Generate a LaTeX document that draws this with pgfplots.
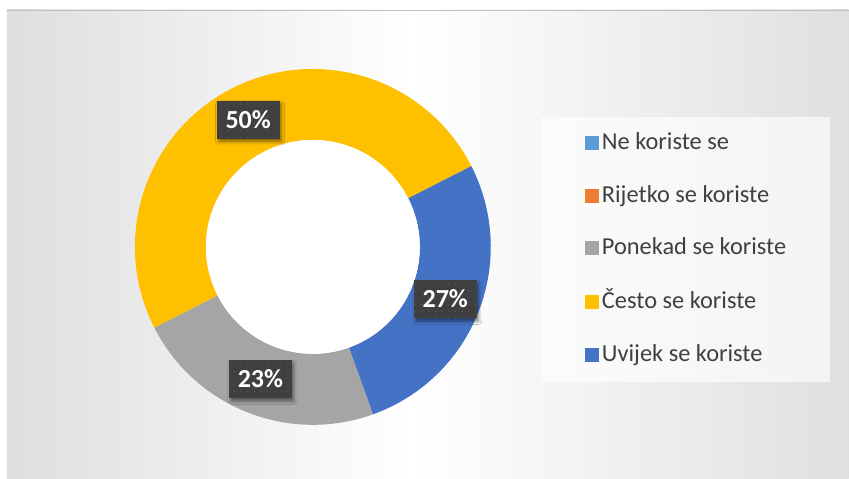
\documentclass[border=0pt]{standalone}
\usepackage{pgfplots}
\pgfplotsset{compat=1.18}
\usepackage{pgfplotstable}
\usepackage{fontspec}
\setmainfont{Carlito}
\usetikzlibrary{patterns.meta,shadows.blur}

\definecolor{cNe}{HTML}{5B9BD5}
\definecolor{cRij}{HTML}{ED7D31}
\definecolor{cPon}{HTML}{A5A5A5}
\definecolor{cCes}{HTML}{FFC000}
\definecolor{cUvi}{HTML}{4472C4}
\definecolor{txt}{HTML}{404040}
\definecolor{lbl}{HTML}{3F3F3F}
\definecolor{lbldot}{HTML}{585858}
\definecolor{bgedge}{HTML}{C4C4C4}
\definecolor{bgmid}{HTML}{DDDDDD}
\definecolor{holeedge}{HTML}{D2D2D2}

\pgfdeclarehorizontalshading{bgshade}{100bp}{color(0bp)=(bgedge); color(24bp)=(bgmid); color(49bp)=(white); color(77bp)=(bgmid); color(100bp)=(bgedge)}
\pgfdeclareradialshading{holeshade}{\pgfpoint{0bp}{0bp}}{color(0bp)=(white); color(27bp)=(white); color(50bp)=(holeedge)}

% data (in clockwise order, starting at the first slice angle)
\pgfplotstableread{
name value
Ponekad 23
Cesto 50
Uvijek 27
}\donutdata
\pgfplotstablegetelem{0}{value}\of\donutdata \edef\vPon{\pgfplotsretval}
\pgfplotstablegetelem{1}{value}\of\donutdata \edef\vCes{\pgfplotsretval}
\pgfplotstablegetelem{2}{value}\of\donutdata \edef\vUvi{\pgfplotsretval}

\pgfmathsetmacro\aStart{-70.2}
\pgfmathsetmacro\aPon{\aStart-3.6*\vPon}
\pgfmathsetmacro\aCes{\aPon-3.6*\vCes}
\pgfmathsetmacro\aUvi{\aCes-3.6*\vUvi}
\pgfmathsetmacro\mPon{(\aStart+\aPon)/2}
\pgfmathsetmacro\mCes{(\aPon+\aCes)/2}
\pgfmathsetmacro\mUvi{(\aCes+\aUvi)/2}

\def\cx{313}\def\cy{232}\def\Ro{178}\def\Ri{107}\def\Rm{142.5}

\newcommand\donutwedge[3]{%
  \fill[#3] (axis cs:{\cx+\Ro*cos(#1)},{\cy+\Ro*sin(#1)})
    arc[start angle=#1,end angle=#2,radius=\Ro pt]
    -- (axis cs:{\cx+\Ri*cos(#2)},{\cy+\Ri*sin(#2)})
    arc[start angle=#2,end angle=#1,radius=\Ri pt] -- cycle;}

% legend entry: colour, baseline y (axis units), text
\newcommand\legentry[3]{%
  \fill[#1] (axis cs:585,{#2}) rectangle (axis cs:599,{#2+14});
  \node[anchor=base west, inner sep=0pt, text=txt, font=\fontsize{24.4}{28}\selectfont]
    at (axis cs:602,{#2}) {#3};}

\tikzset{lblbox/.style={fill=lbl, minimum width=63pt, minimum height=38pt, inner sep=0pt,
  text=white, font=\bfseries\fontsize{26}{30}\selectfont, text height=17pt, text depth=0pt,
  blur shadow={shadow xshift=2pt, shadow yshift=-3pt, shadow blur radius=3pt, shadow opacity=45},
  postaction={pattern={Dots[distance=6.7pt,radius=0.8pt]}, pattern color=lbldot}}}

\begin{document}
\begin{tikzpicture}
\fill[white] (0,0) rectangle (849pt,479pt);
\shade[shading=bgshade] (7pt,0pt) rectangle (849pt,469pt);
\draw[color=black!25, line width=0.8pt] (7pt,469pt) -- (849pt,469pt);
\begin{axis}[
  x=1pt, y=1pt, xmin=0, xmax=849, ymin=0, ymax=479,
  hide axis, clip=false,
]
\addplot[draw=none, forget plot] coordinates {(0,0)};
\donutwedge{\aStart}{\aPon}{cPon}
\donutwedge{\aPon}{\aCes}{cCes}
\donutwedge{\aCes}{\aUvi}{cUvi}
\shade[shading=holeshade] (axis cs:\cx,\cy) circle[radius=\Ri pt];
\node[lblbox] at (axis cs:{\cx+\Rm*cos(\mCes)},{\cy+\Rm*sin(\mCes)}) {\vCes\%};
\node[lblbox] at (axis cs:{\cx+\Rm*cos(\mUvi)},{\cy+\Rm*sin(\mUvi)}) {\vUvi\%};
\node[lblbox] at (axis cs:{\cx+\Rm*cos(\mPon)},{\cy+\Rm*sin(\mPon)}) {\vPon\%};
% legend
\fill[white, opacity=0.65] (axis cs:541,97) rectangle (axis cs:830,362);
\legentry{cNe}{329}{Ne koriste se}
\legentry{cRij}{276}{Rijetko se koriste}
\legentry{cPon}{224}{Ponekad se koriste}
\legentry{cCes}{170}{Često se koriste}
\legentry{cUvi}{117}{Uvijek se koriste}
\end{axis}
\end{tikzpicture}
\end{document}
